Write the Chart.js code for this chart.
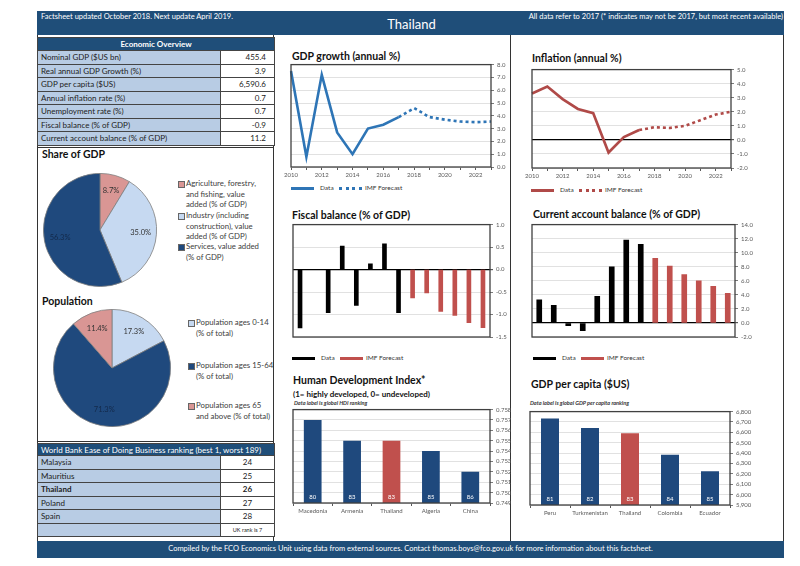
<!DOCTYPE html>
<html><head><meta charset="utf-8">
<script src="https://cdn.jsdelivr.net/npm/chart.js@4.4.0/dist/chart.umd.min.js"></script>
<style>
body{margin:0;width:800px;height:566px;background:#fff;position:relative;overflow:hidden;font-family:Lato,'Open Sans',sans-serif;color:#222}
.a{position:absolute;white-space:nowrap}
.hdr{background:#1F4E79;color:#fff}
.ln{position:absolute;background:#333}
table.t{position:absolute;border-collapse:collapse;font-size:8px;table-layout:fixed}
table.t td{border:1px solid #444;padding:0 3px;overflow:hidden;white-space:nowrap}
table.t td.l{background:#B8CCE4}
table.t td.v{background:#fff;text-align:right;padding-right:8px}
table.t td.h{background:#1F4E79;color:#fff;text-align:center;font-weight:bold}
.ttl{position:absolute;font-weight:bold;font-size:10.5px;color:#111;white-space:nowrap}
.leg{position:absolute;font-size:6.5px;color:#333;white-space:nowrap}
.pl{position:absolute;font-size:7.8px;line-height:10.5px;color:#404040;white-space:nowrap}
.mk{position:absolute;width:5px;height:5px;border:1px solid #666}
</style></head><body>
<script>
// ---------- DATA ----------
const years = ['2010','2011','2012','2013','2014','2015','2016','2017','2018','2019','2020','2021','2022','2023'];
const gdpGrowthData     = [7.5,0.8,7.2,2.7,1.0,3.0,3.3,3.9,null,null,null,null,null,null];
const gdpGrowthForecast = [null,null,null,null,null,null,null,3.9,4.6,3.9,3.7,3.55,3.5,3.55];
const inflationData     = [3.3,3.8,2.9,2.2,1.9,-0.9,0.2,0.7,null,null,null,null,null,null];
const inflationForecast = [null,null,null,null,null,null,null,0.7,0.9,0.85,1.0,1.4,1.8,2.0];
const fiscalData        = [-1.3,0,-0.96,0.52,-0.8,0.13,0.57,-0.96,null,null,null,null,null,null];
const fiscalForecast    = [null,null,null,null,null,null,null,null,-0.63,-0.52,-0.93,-1.02,-1.18,-1.29];
const currentAccData     = [3.3,2.5,-0.4,-1.1,3.8,8.0,11.8,11.2,null,null,null,null,null,null];
const currentAccForecast = [null,null,null,null,null,null,null,null,9.2,8.1,6.9,6.0,5.2,4.2];
const hdiCountries = ['Macedonia','Armenia','Thailand','Algeria','China'];
const hdiValues    = [0.757,0.755,0.755,0.754,0.752];
const hdiRanks     = ['80','83','83','85','86'];
const gdppcCountries = ['Peru','Turkmenistan','Thailand','Colombia','Ecuador'];
const gdppcValues    = [6733,6642,6591,6385,6226];
const gdppcRanks     = ['81','82','83','84','85'];
const shareLabels = ['Agriculture, forestry, and fishing, value added (% of GDP)','Industry (including construction), value added (% of GDP)','Services, value added (% of GDP)'];
const shareValues = [8.7,35.0,56.3];
const popLabels = ['Population ages 0-14 (% of total)','Population ages 15-64 (% of total)','Population ages 65 and above (% of total)'];
const popValues = [17.3,71.3,11.4];
const overviewLabels = ['Nominal GDP ($US bn)','Real annual GDP Growth (%)','GDP per capita ($US)','Annual inflation rate (%)','Unemployment rate (%)','Fiscal balance (% of GDP)','Current account balance (% of GDP)'];
const overviewValues = ['455.4','3.9','6,590.6','0.7','0.7','-0.9','11.2'];
const rankCountries = ['Malaysia','Mauritius','Thailand','Poland','Spain'];
const rankValues = ['24','25','26','27','28'];

// ---------- STYLE ----------
const BLUE='#1F497D', LBLUE='#C6D9F1', SALMON='#D99694', RED='#C0504D', LINEBLUE='#2E75B6', LINERED='#B04A48', GRID='#d9d9d9', TICK='#595959';
Chart.defaults.font.family='Lato, "Open Sans", sans-serif';
Chart.defaults.color=TICK;

function el(tag, cls, style, html){const e=document.createElement(tag); if(cls)e.className=cls; if(style)e.style.cssText=style; if(html!==undefined)e.innerHTML=html; document.body.appendChild(e); return e;}
function line(x,y,w,h){el('div','ln',`left:${x}px;top:${y}px;width:${w}px;height:${h}px`);}

// header & footer
el('div','a hdr',`left:37px;top:11px;width:747px;height:24px`);
el('div','a',`left:41px;top:12px;font-size:7.5px;color:#fff`,'Factsheet updated October 2018. Next update April 2019.');
el('div','a',`left:0;width:800px;top:16px;font-size:13px;color:#fff;text-align:center;padding-left:23px;box-sizing:border-box`,'Thailand');
el('div','a',`right:17px;top:12px;font-size:7.5px;color:#fff`,'All data refer to 2017 (* indicates may not be 2017, but most recent available)');
el('div','a hdr',`left:37px;top:541px;width:747px;height:17px`);
el('div','a',`left:37px;width:747px;top:544px;font-size:7.5px;color:#fff;text-align:center`,'Compiled by the FCO Economics Unit using data from external sources. Contact thomas.boys@fco.gov.uk for more information about this factsheet.');

// frame lines
line(37,35,1,506); line(783,35,1,506); line(273,35,1,506); line(510,35,1,506);
line(37,147,236,1); line(37,441,236,1);

// Economic overview table
(function(){
  let h='<tr><td class="h" colspan="2" style="height:12px">Economic Overview</td></tr>';
  overviewLabels.forEach((l,i)=>{h+=`<tr><td class="l" style="height:12.5px">${l}</td><td class="v">${overviewValues[i]}</td></tr>`;});
  const t=el('table','t','left:37px;top:37px;width:237px',h);
  t.insertAdjacentHTML('afterbegin','<colgroup><col style="width:183px"><col style="width:54px"></colgroup>');
})();
// World bank table
(function(){
  let h='<tr><td class="h" colspan="2" style="height:11px;text-align:left;font-weight:normal">World Bank Ease of Doing Business ranking (best 1, worst 189)</td></tr>';
  rankCountries.forEach((c,i)=>{const b=c==='Thailand'?'font-weight:bold;':'';h+=`<tr><td class="l" style="height:12.5px;${b}">${c}</td><td class="v" style="text-align:center;padding-right:3px;${b}">${rankValues[i]}</td></tr>`;});
  h+='<tr><td class="l" style="height:12.5px"></td><td class="v" style="text-align:center;padding-right:3px;font-size:5.5px">UK rank is 7</td></tr>';
  const t=el('table','t','left:37px;top:443px;width:237px',h);
  t.insertAdjacentHTML('afterbegin','<colgroup><col style="width:183px"><col style="width:54px"></colgroup>');
})();

// titles
el('div','ttl','left:42px;top:148px','Share of GDP');
el('div','ttl','left:42px;top:295px','Population');
el('div','ttl','left:292px;top:50px','GDP growth (annual %)');
el('div','ttl','left:532px;top:52px','Inflation (annual %)');
el('div','ttl','left:292px;top:209px','Fiscal balance (% of GDP)');
el('div','ttl','left:533px;top:208px','Current account balance (% of GDP)');
el('div','ttl','left:293px;top:374px','Human Development Index*');
el('div','ttl','left:293px;top:389px;font-size:8px','(1= highly developed, 0= undeveloped)');
el('div','a','left:294px;top:400px;font-size:5.5px;font-style:italic;font-weight:bold;color:#333','Data label is global HDI ranking');
el('div','ttl','left:531px;top:378px','GDP per capita ($US)');
el('div','a','left:530px;top:400px;font-size:5.5px;font-style:italic;font-weight:bold;color:#333','Data label is global GDP per capita ranking');

// legends (HTML)
function legend(x,y,c1,dash1,c2,dash2){
  const seg=(lx,c,d)=>el('div','',`position:absolute;left:${lx}px;top:${y-1.5}px;width:23px;height:0;border-top:3px ${d?'dotted':'solid'} ${c}`);
  seg(x,c1,dash1); el('div','leg',`left:${x+29}px;top:${y-4.5}px`,'Data');
  seg(x+48,c2,dash2); el('div','leg',`left:${x+74}px;top:${y-4.5}px`,'IMF Forecast');
}
legend(291,188,LINEBLUE,false,LINEBLUE,true);
legend(531,190,LINERED,false,LINERED,true);
legend(292,358,'#000',false,RED,false);
legend(533,358,'#000',false,RED,false);

// pie legends
function pieLegend(x, items){
  items.forEach(it=>{
    el('div','mk',`left:${x}px;top:${it.y+2.5}px;background:${it.c}`);
    el('div','pl',`left:${x+8}px;top:${it.y}px`,it.t);
  });
}
pieLegend(178,[{y:178,c:SALMON,t:'Agriculture, forestry,<br>and fishing, value<br>added (% of GDP)'},{y:210,c:LBLUE,t:'Industry (including<br>construction), value<br>added (% of GDP)'},{y:241,c:BLUE,t:'Services, value added<br>(% of GDP)'}]);
pieLegend(188,[{y:317,c:LBLUE,t:'Population ages 0-14<br>(% of total)'},{y:360,c:BLUE,t:'Population ages 15-64<br>(% of total)'},{y:400,c:SALMON,t:'Population ages 65<br>and above (% of total)'}]);

// ---------- charts ----------
const frame={id:'frame',afterDraw(c){const a=c.chartArea,x=c.ctx;x.save();x.strokeStyle='#404040';x.lineWidth=1.3;x.strokeRect(a.left,a.top,a.right-a.left,a.bottom-a.top);x.restore();}};
const PADL=14,PADT=6,YW=26,XH=13;
function canvasFor(l,t,r,b){
  const c=document.createElement('canvas');
  const w=(r-l)+PADL+YW, h=(b-t)+PADT+XH;
  c.width=w;c.height=h;c.style.cssText=`position:absolute;left:${l-PADL}px;top:${t-PADT}px;width:${w}px;height:${h}px`;
  document.body.appendChild(c);return c;
}
function yAxis(min,max,step,fmt,zero){
  return {position:'right',min,max,ticks:{stepSize:step,font:{size:6},color:TICK,padding:3,callback:fmt},
    grid:{color:ctx=>(zero&&ctx.tick&&Math.abs(ctx.tick.value)<1e-9)?'#000':GRID,lineWidth:ctx=>(zero&&ctx.tick&&Math.abs(ctx.tick.value)<1e-9)?1.2:0.8,tickLength:3,tickColor:TICK},
    border:{display:false},afterFit:s=>{s.width=YW;}};
}
const f1=v=>Number(v).toFixed(1);
function lineChart(rect,actual,forecast,color,min,max,step,zero){
  new Chart(canvasFor(...rect),{type:'line',
    data:{labels:years,datasets:[
      {data:actual,borderColor:color,borderWidth:2.6,pointRadius:0,tension:0,spanGaps:false},
      {data:forecast,borderColor:color,borderWidth:2.6,borderDash:[3,3],pointRadius:0,tension:0}]},
    options:{responsive:false,animation:false,layout:{padding:{left:PADL,top:PADT,right:0,bottom:0}},
      plugins:{legend:{display:false},tooltip:{enabled:false}},
      scales:{x:{offset:false,grid:{drawOnChartArea:false,tickLength:3,tickColor:TICK},border:{display:false},
          ticks:{autoSkip:false,maxRotation:0,padding:1,font:{size:6},color:TICK,callback:(v,i)=>(i%2===0&&i<13)?years[i]:''},afterFit:s=>{s.height=XH;}},
        y:yAxis(min,max,step,f1,zero)}},
    plugins:[frame]});
}
function barChart(rect,actual,forecast,thick,min,max,step){
  new Chart(canvasFor(...rect),{type:'bar',
    data:{labels:years,datasets:[
      {data:actual,backgroundColor:'#000',barThickness:thick},
      {data:forecast,backgroundColor:RED,barThickness:thick}]},
    options:{responsive:false,animation:false,layout:{padding:{left:PADL,top:PADT,right:0,bottom:0}},
      plugins:{legend:{display:false},tooltip:{enabled:false}},
      scales:{x:{stacked:true,grid:{display:false},border:{display:false},
          ticks:{autoSkip:false,maxRotation:0,padding:3,font:{size:6},color:TICK,callback:(v,i)=>(i%2===0)?years[i]:''},afterFit:s=>{s.height=XH;}},
        y:Object.assign(yAxis(min,max,step,f1,true),{stacked:true})}},
    plugins:[frame]});
}
lineChart([291,64,491,167],gdpGrowthData,gdpGrowthForecast,LINEBLUE,0,8,1,false);
lineChart([532,69,731,168],inflationData,inflationForecast,LINERED,-2,5,1,true);
barChart([293,224,490,337],fiscalData,fiscalForecast,4,-1.5,1,0.5);
barChart([532,224,735,337],currentAccData,currentAccForecast,5,-2,14,2);

const rankLabels={id:'rankLabels',afterDatasetsDraw(c,args,opts){const x=c.ctx;x.save();x.fillStyle='#fff';x.font='6px Lato';x.textAlign='center';x.textBaseline='middle';
  c.getDatasetMeta(0).data.forEach((b,i)=>x.fillText(opts.ranks[i],b.x,c.chartArea.bottom-6));x.restore();}};
function compChart(rect,labels,values,ranks,min,max,step,fmt){
  new Chart(canvasFor(...rect),{type:'bar',
    data:{labels,datasets:[{data:values,backgroundColor:labels.map(l=>l==='Thailand'?RED:BLUE),barPercentage:0.45,categoryPercentage:1}]},
    options:{responsive:false,animation:false,layout:{padding:{left:PADL,top:PADT,right:0,bottom:0}},
      plugins:{legend:{display:false},tooltip:{enabled:false},rankLabels:{ranks}},
      scales:{x:{grid:{drawOnChartArea:false,tickLength:3,tickColor:TICK},border:{display:false},
          ticks:{maxRotation:0,padding:1,font:{size:6},color:TICK},afterFit:s=>{s.height=XH;}},
        y:Object.assign(yAxis(min,max,step,fmt,false),{})}},
    plugins:[frame,rankLabels]});
}
compChart([293,409,490,503],hdiCountries,hdiValues,hdiRanks,0.749,0.758,0.001,v=>Number(v).toFixed(3));
compChart([530,411,730,505],gdppcCountries,gdppcValues,gdppcRanks,5900,6800,100,v=>Math.round(v).toLocaleString('en-US'));

// pies
const pieLabels={id:'pieLabels',afterDatasetsDraw(c){const x=c.ctx;x.save();x.font='7.5px Lato';x.textAlign='center';x.textBaseline='middle';
  const ds=c.data.datasets[0];
  c.getDatasetMeta(0).data.forEach((a,i)=>{const m=(a.startAngle+a.endAngle)/2,r=a.outerRadius*0.72;
    x.fillStyle=ds.backgroundColor[i]===BLUE?'#13294a':'#333';
    x.fillText(ds.data[i].toFixed(1)+'%',a.x+Math.cos(m)*r,a.y+Math.sin(m)*r);});x.restore();}};
function pie(l,t,size,labels,values,colors){
  const c=document.createElement('canvas');c.width=size;c.height=size;c.style.cssText=`position:absolute;left:${l}px;top:${t}px;width:${size}px;height:${size}px`;document.body.appendChild(c);
  new Chart(c,{type:'pie',data:{labels,datasets:[{data:values,backgroundColor:colors,borderColor:'#7f7f7f',borderWidth:0.8}]},
    options:{responsive:false,animation:false,plugins:{legend:{display:false},tooltip:{enabled:false}}},plugins:[pieLabels]});
}
pie(43,173,114,shareLabels,shareValues,[SALMON,LBLUE,BLUE]);
pie(53,309,118,popLabels,popValues,[LBLUE,BLUE,SALMON]);
</script>
</body></html>
